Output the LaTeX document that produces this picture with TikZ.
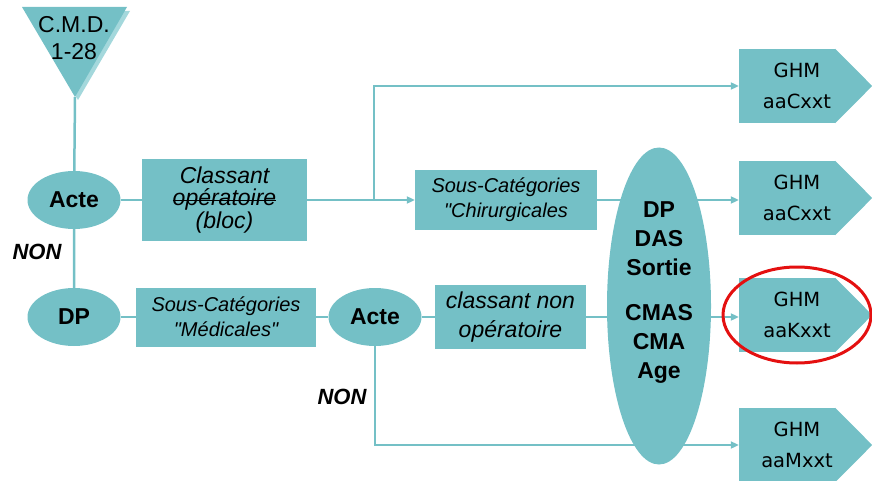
\documentclass[tikz,border=0pt]{standalone}
\usepackage{fontspec}
\setmainfont{Liberation Sans}[Ligatures=TeXOff]
\newfontfamily\ghmfamily{DejaVu Sans}
\usetikzlibrary{shapes.geometric,arrows.meta}
\definecolor{tealfill}{RGB}{116,192,198}
\definecolor{tealshade}{RGB}{164,216,220}
\definecolor{hired}{RGB}{228,16,16}

\newlength{\strikelen}
\newcommand{\strikeword}[1]{\settowidth{\strikelen}{#1}\rlap{\rule[0.2em]{\strikelen}{1.1pt}}#1}

\tikzset{
  link/.style={draw=tealfill, line width=2.5pt},
  arr/.style={link, -{Triangle[length=8pt,width=7pt]}},
  oval/.style={ellipse, fill=tealfill, inner sep=0pt, minimum width=93pt, minimum height=58pt, font=\fontsize{23}{26}\selectfont\bfseries},
  box/.style={rectangle, fill=tealfill, inner sep=0pt, align=center, font=\fontsize{20}{25}\selectfont\itshape},
  ghm/.style={rectangle, fill=tealfill, inner sep=0pt, minimum width=96pt, minimum height=74pt, text width=96pt, align=center, font=\ghmfamily\fontsize{19.5}{31}\selectfont},
  nonlbl/.style={font=\fontsize{22}{26}\selectfont\bfseries\itshape},
}

\begin{document}
\begin{tikzpicture}[x=1pt,y=-1pt]
  \useasboundingbox (0,0) rectangle (872,481);

  % CMD triangle
  \fill[tealshade] (26,11) -- (130,11) -- (78,100) -- cycle;
  \fill[tealfill] (22,7) -- (127,7) -- (75,97) -- cycle;
  \coordinate (cmdtip) at (75,97);
  \node[align=center, font=\fontsize{23}{27}\selectfont] (cmd) at (74,38) {C.M.D.\\1-28};

  % first level
  \node[oval] (acte1) at (74,200) {Acte};
  \node[oval] (dp) at (74,317) {DP};
  \node[nonlbl] (non1) at (37,252) {NON};

  \node[box, minimum width=165pt, minimum height=82pt, font=\fontsize{23}{22.5}\selectfont\itshape] (bloc) at (224.5,200) {Classant\\\strikeword{opératoire}\\(bloc)};
  \node[box, minimum width=182pt, minimum height=59pt] (chir) at (506,200) {Sous-Catégories\\"Chirurgicales};
  \node[box, minimum width=180pt, minimum height=59pt] (medic) at (226,317) {Sous-Catégories\\"Médicales"};
  \node[oval] (acte2) at (375,317) {Acte};
  \node[box, minimum width=151pt, minimum height=64pt, font=\fontsize{23}{28.5}\selectfont\itshape] (nonop) at (510.5,317) {classant non\\opératoire};
  \node[nonlbl] (non2) at (342,397) {NON};

  % GHM
  \node[ghm] (ghmA) at (787,86) {\hspace*{20pt}GHM\\\hspace*{20pt}aaCxxt};
  \node[ghm] (ghmB) at (787,198) {\hspace*{20pt}GHM\\\hspace*{20pt}aaCxxt};
  \node[ghm] (ghmC) at (787,315) {\hspace*{20pt}GHM\\\hspace*{20pt}aaKxxt};
  \node[ghm] (ghmD) at (787,445) {\hspace*{20pt}GHM\\\hspace*{20pt}aaMxxt};
  \foreach \g in {ghmA,ghmB,ghmC,ghmD}
    \fill[tealfill] (\g.north east) -- ([xshift=37pt]\g.east) -- (\g.south east) -- cycle;

  % connectors
  \draw[link] (cmdtip) -- (acte1) -- (dp);
  \draw[link] (acte1) -- (bloc);
  \draw[arr] (bloc) -- (chir);
  \coordinate (split) at (374,200);
  \draw[arr] (split) |- (ghmA);
  \draw[arr] (chir) -- (chir -| ghmB.west);
  \draw[link] (dp) -- (medic) -- (acte2) -- (nonop);
  \draw[arr] (nonop) -- (nonop -| ghmC.west);
  \draw[arr] (acte2) |- (ghmD);

  % criteria
  \node[ellipse, fill=tealfill, inner sep=0pt, minimum width=104pt, minimum height=317pt] (crit) at (659,306) {};
  \node[align=center, font=\fontsize{23}{29}\selectfont\bfseries] (critlist) at (659,293) {DP\\DAS\\Sortie\\[16pt]CMAS\\CMA\\Age};

  \draw[hired, line width=3pt] ([xshift=10pt]ghmC.center) ellipse [x radius=74pt, y radius=48pt];
\end{tikzpicture}
\end{document}
